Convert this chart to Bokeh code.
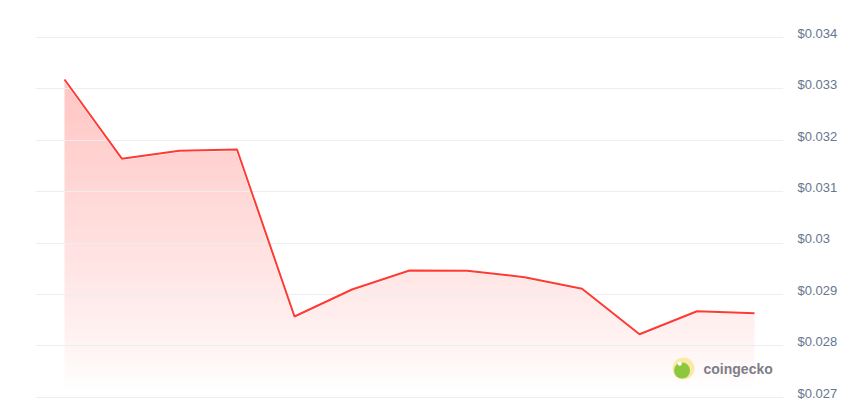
import numpy as np
from bokeh.plotting import figure
from bokeh.models import Range1d, FixedTicker, Label
from bokeh.embed import file_html
from bokeh.resources import INLINE

# ---- data ----
idx = list(range(13))
prices = [0.033182, 0.031639, 0.031795, 0.031820, 0.028570, 0.029096, 0.029465,
          0.029460, 0.029335, 0.029109, 0.028226, 0.028673, 0.028635]
tick_values = [0.027, 0.028, 0.029, 0.030, 0.031, 0.032, 0.033, 0.034]
tick_labels = ["$0.027", "$0.028", "$0.029", "$0.03", "$0.031", "$0.032", "$0.033", "$0.034"]
fill_floor = 0.02708

LINE = "#ff3a33"

p = figure(width=855, height=417, output_backend="svg", toolbar_location=None,
           x_axis_type=None, y_axis_location="right",
           x_range=Range1d(-0.504, 12.504), y_range=Range1d(0.026605, 0.0347194),
           min_border_left=35, min_border_right=72, min_border_top=0, min_border_bottom=0)
p.outline_line_color = None
p.background_fill_color = "white"
p.border_fill_color = "white"

# gradient fill: image of vertical gradient, then white mask above the line
top = max(prices)
mask_top = top + 0.0003
n = 200
alpha = np.linspace(0.0, 1.0, n) ** 0.85 * 0.30
img = np.zeros((n, 1), dtype=np.uint32)
view = img.view(dtype=np.uint8).reshape((n, 1, 4))
view[:, 0, 0] = 255
view[:, 0, 1] = 58
view[:, 0, 2] = 51
view[:, 0, 3] = (alpha * 255).astype(np.uint8)
p.image_rgba(image=[img], x=idx[0], y=fill_floor, dw=idx[-1] - idx[0], dh=top - fill_floor + 0.0001,
             level="image")
p.patch(x=idx + [idx[-1], idx[0]], y=prices + [mask_top, mask_top],
        fill_color="white", fill_alpha=1.0, line_color="white", line_width=3, level="image")

p.line(idx, prices, line_color=LINE, line_width=2)

# axis styling: labels sit a few px above their gridline, as in the original
label_lift = 0.00008
label_pos = [round(v + label_lift, 6) for v in tick_values]
p.yaxis.ticker = FixedTicker(ticks=label_pos)
p.yaxis.major_label_overrides = {v: s for v, s in zip(label_pos, tick_labels)}
p.yaxis.axis_line_color = None
p.yaxis.major_tick_line_color = None
p.yaxis.minor_tick_line_color = None
p.yaxis.major_tick_out = 0
p.yaxis.major_label_standoff = 14
p.yaxis.major_label_text_font = "Liberation Sans"
p.yaxis.major_label_text_font_size = "13px"
p.yaxis.major_label_text_color = "#66768f"

p.ygrid.ticker = FixedTicker(ticks=tick_values)
p.ygrid.grid_line_color = "#eceef2"
p.ygrid.grid_line_width = 1
p.xgrid.grid_line_color = None

# watermark
p.scatter([10.765], [0.027558], size=22, fill_color="#faeaa6", line_color=None)
p.scatter([10.74], [0.02752], size=16, fill_color="#8dc63f", line_color=None)
p.scatter([10.70], [0.02765], size=4, fill_color="white", line_color=None)
p.add_layout(Label(x=11.113, y=0.027558, text="coingecko", text_font="Liberation Sans",
                   text_font_style="bold", text_font_size="14px", text_color="#7d7d88",
                   text_baseline="middle"))

open("out.html", "w").write(file_html(p, INLINE))
